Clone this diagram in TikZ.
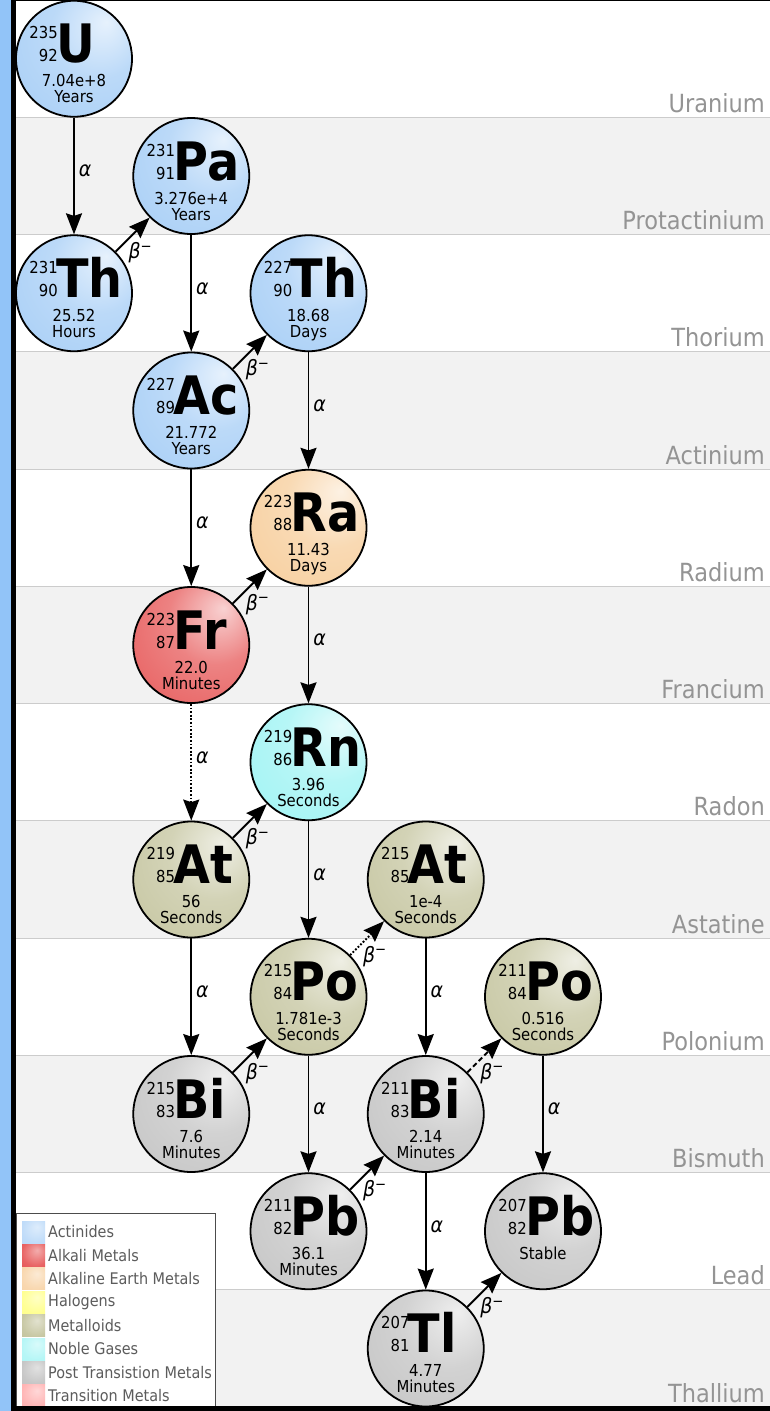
\documentclass[tikz,border=0pt]{standalone}
\usepackage{fontspec}
\setmainfont{DejaVu Sans}[FakeStretch=0.9]
\usepackage{graphicx}
\usetikzlibrary{arrows.meta}
\definecolor{actin}{HTML}{9CC8F5}
\definecolor{alkali}{HTML}{E44848}
\definecolor{alkearth}{HTML}{F6C890}
\definecolor{metalloid}{HTML}{BEBE94}
\definecolor{noble}{HTML}{94F2F2}
\definecolor{post}{HTML}{BDBDBD}
\definecolor{halogen}{HTML}{FFFF80}
\definecolor{transit}{HTML}{FFA8A8}
\definecolor{bandgray}{HTML}{F2F2F2}
\definecolor{sepgray}{HTML}{CCCCCC}
\definecolor{barblue}{HTML}{92C4F8}
\makeatletter
\pgfdeclareradialshading[tikz@ball]{isoball}{\pgfqpoint{14bp}{16bp}}{%
 color(0bp)=(tikz@ball!25!white); color(20bp)=(tikz@ball!68!white); color(44bp)=(tikz@ball!88!white); color(72bp)=(tikz@ball)}
\pgfdeclareradialshading[tikz@ball]{swball}{\pgfqpoint{8bp}{12bp}}{%
 color(0bp)=(tikz@ball!45!white); color(30bp)=(tikz@ball!85!white); color(60bp)=(tikz@ball)}
\makeatother
\tikzset{
 isoc/.style={circle, draw=black, line width=1.8pt, minimum size=116pt, inner sep=0pt, ball color=#1, shading=isoball},
 numtxt/.style={inner sep=0pt, font=\fontsize{16.5}{16.5}\selectfont},
 symtxt/.style={inner sep=0pt, font=\fontsize{53}{53}\selectfont\bfseries},
 hltxt/.style={inner sep=0pt, anchor=base, font=\fontsize{16.5}{16.5}\selectfont},
 decay/.style={draw=black, line width=1.9pt, -{Stealth[length=21pt,width=16pt,inset=2.5pt]}},
 dotline/.style={dash pattern=on 1.8pt off 1.8pt},
 dashline/.style={dash pattern=on 5pt off 3pt},
 alab/.style={midway, anchor=west, inner sep=0pt, xshift=4pt, yshift=5pt, font=\fontsize{21}{21}\selectfont\itshape},
 blab/.style={midway, anchor=north west, inner sep=0pt, xshift=-5pt, yshift=-7pt, font=\fontsize{21}{21}\selectfont\itshape},
 rowlab/.style={anchor=base east, inner sep=0pt, text=black!42, font=\fontsize{25}{25}\selectfont},
 legtxt/.style={anchor=west, inner sep=0pt, text=black!64, font=\fontsize{16}{16}\selectfont},
 legsw/.style={draw=none, ball color=#1, shading=swball}
}
\newcommand\isonode[9]{%
 \node[isoc=#9] (#1) at ({74+117.25*(#2)},{58.75+117.25*(#3)}) {};
 \node[numtxt, anchor=base east] (#1-m) at ([shift={(-16,-20)}]#1.center) {#4};
 \node[numtxt, anchor=base east] (#1-z) at ([shift={(-16,3)}]#1.center) {#5};
 \node[symtxt, anchor=base west] (#1-s) at ([shift={(-18,4)}]#1.center) {#6};
 \node[hltxt] (#1-a) at ([shift={(0,28)}]#1.center) {#7};
 \node[hltxt] (#1-b) at ([shift={(0,44)}]#1.center) {#8};
}
\begin{document}
\begin{tikzpicture}[x=1pt, y=-1pt]
\useasboundingbox (0,0) rectangle (770,1411);
\fill[white] (0,0) rectangle (770,1411);
% bands
\foreach \k in {1,3,5,7,9,11}{
 \fill[bandgray] (15,{117.25*\k}) rectangle (770,{117.25*(\k+1)});
}
\foreach \k in {1,...,11}{
 \draw[sepgray, line width=1pt] (15,{117.25*\k}) -- (770,{117.25*\k});
}
% row labels
\foreach \k/\nm in {1/Uranium,2/Protactinium,3/Thorium,4/Actinium,5/Radium,6/Francium,7/Radon,8/Astatine,9/Polonium,10/Bismuth,11/Lead,12/Thallium}{
 \node[rowlab] (row\k) at (765,{117.25*\k-5}) {\nm};
}
% legend
\draw[draw=black!70, fill=white, line width=1pt] (16,1213) rectangle (215,1420);
\foreach \i/\c/\t in {0/actin!75!white/Actinides,1/alkali/Alkali Metals,2/alkearth!85!white/Alkaline Earth Metals,3/halogen/Halogens,4/metalloid/Metalloids,5/noble!80!white/Noble Gases,6/post/Post Transistion Metals,7/transit/Transition Metals}{
 \path[legsw=\c] (22,{1221+23.4*\i}) rectangle (45,{1243+23.4*\i});
 \node[legtxt] (leg\i) at (48,{1232+23.4*\i}) {\t};
}
% frame bars
\fill[barblue] (0,0) rectangle (10.5,1411);
\fill[black] (10.5,0) rectangle (15.5,1411);
\fill[black] (10.5,1406) rectangle (770,1411);
\fill[black] (10.5,0) rectangle (770,1.2);
% isotopes
\isonode{u}{0}{0}{235}{92}{U}{7.04e+8}{Years}{actin}
\isonode{pa}{1}{1}{231}{91}{Pa}{3.276e+4}{Years}{actin}
\isonode{th1}{0}{2}{231}{90}{Th}{25.52}{Hours}{actin}
\isonode{th2}{2}{2}{227}{90}{Th}{18.68}{Days}{actin}
\isonode{ac}{1}{3}{227}{89}{Ac}{21.772}{Years}{actin}
\isonode{ra}{2}{4}{223}{88}{Ra}{11.43}{Days}{alkearth}
\isonode{fr}{1}{5}{223}{87}{Fr}{22.0}{Minutes}{alkali}
\isonode{rn}{2}{6}{219}{86}{Rn}{3.96}{Seconds}{noble}
\isonode{at1}{1}{7}{219}{85}{At}{56}{Seconds}{metalloid}
\isonode{at2}{3}{7}{215}{85}{At}{1e-4}{Seconds}{metalloid}
\isonode{po1}{2}{8}{215}{84}{Po}{1.781e-3}{Seconds}{metalloid}
\isonode{po2}{4}{8}{211}{84}{Po}{0.516}{Seconds}{metalloid}
\isonode{bi1}{1}{9}{215}{83}{Bi}{7.6}{Minutes}{post}
\isonode{bi2}{3}{9}{211}{83}{Bi}{2.14}{Minutes}{post}
\isonode{pb1}{2}{10}{211}{82}{Pb}{36.1}{Minutes}{post}
\isonode{pb2}{4}{10}{207}{82}{Pb}{Stable}{}{post}
\isonode{tl}{3}{11}{207}{81}{Tl}{4.77}{Minutes}{post}
% alpha decays
\draw[decay] (u) -- (th1) node[alab] (a1) {α};
\draw[decay] (pa) -- (ac) node[alab] (a2) {α};
\draw[decay] (th2) -- (ra) node[alab] (a3) {α};
\draw[decay] (ac) -- (fr) node[alab] (a4) {α};
\draw[decay] (ra) -- (rn) node[alab] (a5) {α};
\draw[decay, dotline] (fr) -- (at1) node[alab] (a6) {α};
\draw[decay] (rn) -- (po1) node[alab] (a7) {α};
\draw[decay] (at1) -- (bi1) node[alab] (a8) {α};
\draw[decay] (at2) -- (bi2) node[alab] (a9) {α};
\draw[decay] (po1) -- (pb1) node[alab] (a10) {α};
\draw[decay] (po2) -- (pb2) node[alab] (a11) {α};
\draw[decay] (bi2) -- (tl) node[alab] (a12) {α};
% beta decays
\draw[decay] (th1) -- (pa) node[blab] (b1) {β\textsuperscript{−}};
\draw[decay] (ac) -- (th2) node[blab] (b2) {β\textsuperscript{−}};
\draw[decay] (fr) -- (ra) node[blab] (b3) {β\textsuperscript{−}};
\draw[decay] (at1) -- (rn) node[blab] (b4) {β\textsuperscript{−}};
\draw[decay, dotline] (po1) -- (at2) node[blab] (b5) {β\textsuperscript{−}};
\draw[decay] (bi1) -- (po1) node[blab] (b6) {β\textsuperscript{−}};
\draw[decay, dashline] (bi2) -- (po2) node[blab] (b7) {β\textsuperscript{−}};
\draw[decay] (pb1) -- (bi2) node[blab] (b8) {β\textsuperscript{−}};
\draw[decay] (tl) -- (pb2) node[blab] (b9) {β\textsuperscript{−}};
\end{tikzpicture}
\end{document}
